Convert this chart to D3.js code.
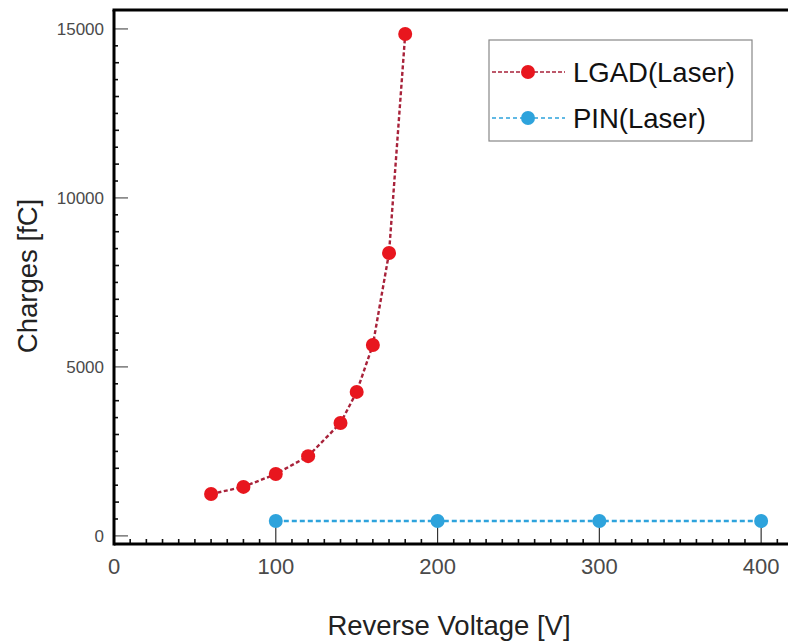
<!DOCTYPE html>
<html>
<head>
<meta charset="utf-8">
<script src="https://cdn.jsdelivr.net/npm/d3@7/dist/d3.min.js"></script>
<style>
  html, body { margin: 0; padding: 0; background: #fff; }
  svg { display: block; font-family: "Liberation Sans", Arial, sans-serif; }
</style>
</head>
<body>
<svg id="chart" width="788" height="642"></svg>
<script>
// ---- data ----
const lgadVoltage = [60, 80, 100, 120, 140, 150, 160, 170, 180];
const lgadCharge  = [1240, 1450, 1830, 2360, 3340, 4260, 5650, 8370, 14850];
const pinVoltage  = [100, 200, 300, 400];
const pinCharge   = [440, 440, 440, 440];
const xTickValues = [0, 100, 200, 300, 400];
const yTickValues = [0, 5000, 10000, 15000];
const seriesNames = ["LGAD(Laser)", "PIN(Laser)"];
const xTitle = "Reverse Voltage [V]";
const yTitle = "Charges [fC]";

(function () {
// ---- layout ----
const mLeft = 114, mTop = 10, mBottom = 544, mRight = 788;
const red = "#e8161e", redLine = "#a8223a", blue = "#2ea3dc";

const svg = d3.select("#chart");
const x = d3.scaleLinear().domain([0, 416.6]).range([mLeft, mRight]);
const y = d3.scaleLinear().domain([-240, 15560]).range([mBottom, mTop]);

const xMinor = d3.range(10, 420, 10).filter(v => v % 100 !== 0);
const yMinor = d3.range(500, 15500, 500).filter(v => v % 5000 !== 0);

const g = svg.append("g");

g.selectAll(".xminor").data(xMinor).join("line")
  .attr("x1", d => x(d)).attr("x2", d => x(d))
  .attr("y1", mBottom).attr("y2", mBottom - 5)
  .attr("stroke", "#111").attr("stroke-width", 1.6);
g.selectAll(".xmajor").data(xTickValues).join("line")
  .attr("x1", d => x(d)).attr("x2", d => x(d))
  .attr("y1", mBottom).attr("y2", mBottom - 20)
  .attr("stroke", "#333").attr("stroke-width", 1.2);
g.selectAll(".yminor").data(yMinor).join("line")
  .attr("x1", mLeft).attr("x2", d => mLeft + ((d % 1000 === 0) ? 5 : 4))
  .attr("y1", d => y(d)).attr("y2", d => y(d))
  .attr("stroke", "#111").attr("stroke-width", 1.6);
g.selectAll(".ymajor").data(yTickValues).join("line")
  .attr("x1", mLeft).attr("x2", mLeft + 14)
  .attr("y1", d => y(d)).attr("y2", d => y(d))
  .attr("stroke", "#555").attr("stroke-width", 1.2);

g.append("line").attr("x1", mLeft).attr("x2", mRight).attr("y1", mBottom).attr("y2", mBottom)
  .attr("stroke", "#000").attr("stroke-width", 3);
g.append("line").attr("x1", mLeft).attr("x2", mLeft).attr("y1", mTop).attr("y2", mBottom + 1.5)
  .attr("stroke", "#000").attr("stroke-width", 3);
g.append("line").attr("x1", mLeft - 1.5).attr("x2", mRight).attr("y1", mTop).attr("y2", mTop)
  .attr("stroke", "#000").attr("stroke-width", 3);

g.selectAll(".xlab").data(xTickValues).join("text")
  .attr("x", d => x(d)).attr("y", 574)
  .attr("text-anchor", "middle").attr("font-size", 22).attr("fill", "#4a4a4a")
  .text(d => d);
g.selectAll(".ylab").data(yTickValues).join("text")
  .attr("x", 104).attr("y", d => y(d)).attr("dy", "0.35em")
  .attr("text-anchor", "end").attr("font-size", 17).attr("fill", "#4a4a4a")
  .text(d => d);

svg.append("text").attr("x", 449).attr("y", 635)
  .attr("text-anchor", "middle").attr("font-size", 27.5).attr("fill", "#222")
  .text(xTitle);
svg.append("text").attr("transform", "translate(27,276) rotate(-90)")
  .attr("text-anchor", "middle").attr("dominant-baseline", "central")
  .attr("font-size", 27.5).attr("fill", "#222")
  .text(yTitle);

const lgad = lgadVoltage.map((v, i) => [v, lgadCharge[i]]);
const pin = pinVoltage.map((v, i) => [v, pinCharge[i]]);
const line = d3.line().x(d => x(d[0])).y(d => y(d[1]));

g.append("path").datum(pin).attr("d", line).attr("fill", "none")
  .attr("stroke", blue).attr("stroke-width", 2.6).attr("stroke-dasharray", "5,3");
g.selectAll(".pinpt").data(pin).join("circle")
  .attr("cx", d => x(d[0])).attr("cy", d => y(d[1])).attr("r", 7).attr("fill", blue);

g.append("path").datum(lgad).attr("d", line).attr("fill", "none")
  .attr("stroke", redLine).attr("stroke-width", 2.4).attr("stroke-dasharray", "4,2.5");
g.selectAll(".lgadpt").data(lgad).join("circle")
  .attr("cx", d => x(d[0])).attr("cy", d => y(d[1])).attr("r", 7).attr("fill", red);

const lg = svg.append("g");
lg.append("rect").attr("x", 489).attr("y", 40).attr("width", 263).attr("height", 101)
  .attr("fill", "#fff").attr("stroke", "#888").attr("stroke-width", 1.2);
const legendItems = [
  { name: seriesNames[0], ly: 72, line: redLine, fill: red, dash: "4,2" },
  { name: seriesNames[1], ly: 118, line: blue, fill: blue, dash: "4,3" }
];
legendItems.forEach(it => {
  lg.append("line").attr("x1", 492).attr("x2", 565).attr("y1", it.ly).attr("y2", it.ly)
    .attr("stroke", it.line).attr("stroke-width", 1.5).attr("stroke-dasharray", it.dash);
  lg.append("circle").attr("cx", 528).attr("cy", it.ly).attr("r", 7).attr("fill", it.fill);
  lg.append("text").attr("x", 573).attr("y", it.ly).attr("dy", "0.35em")
    .attr("font-size", 27.5).attr("fill", "#111").text(it.name);
});
})();
</script>
</body>
</html>
